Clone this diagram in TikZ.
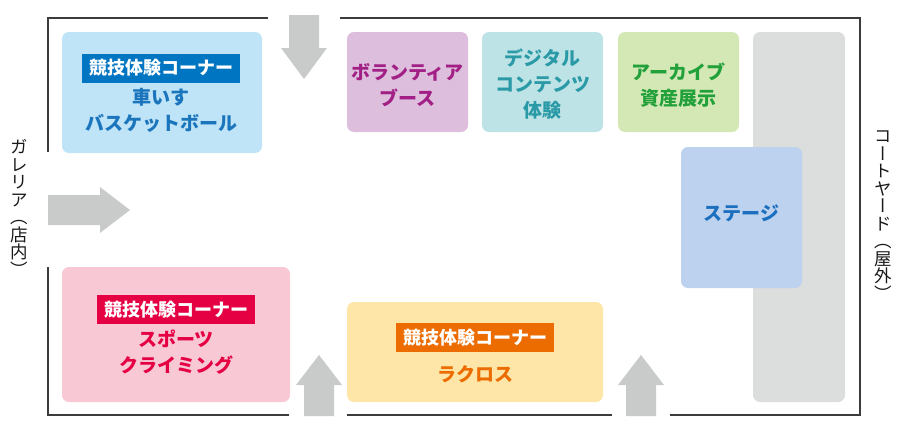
\documentclass[tikz,border=0pt]{standalone}
\usepackage{fontspec}
\setmainfont{Noto Sans CJK JP}
\newfontfamily\vjp{Noto Sans CJK JP}[RawFeature=+vert]
\usetikzlibrary{positioning}
\definecolor{wallc}{HTML}{3C3C3C}
\definecolor{flowc}{HTML}{C9CACA}
\definecolor{colc}{HTML}{DCDDDD}
\definecolor{wbbg}{HTML}{BFE3F7}
\definecolor{wbtag}{HTML}{0075C2}
\definecolor{wbtx}{HTML}{1B75BC}
\definecolor{scbg}{HTML}{F8C9D4}
\definecolor{sctag}{HTML}{E50043}
\definecolor{vobg}{HTML}{DDBFDD}
\definecolor{votx}{HTML}{A21F86}
\definecolor{dgbg}{HTML}{BEE3E6}
\definecolor{dgtx}{HTML}{2A9AA6}
\definecolor{arbg}{HTML}{D3E8B5}
\definecolor{artx}{HTML}{22A03A}
\definecolor{stbg}{HTML}{BCD2EE}
\definecolor{sttx}{HTML}{1C6FBF}
\definecolor{lcbg}{HTML}{FDE6A8}
\definecolor{lctag}{HTML}{EC6C00}

\begin{document}
\begin{tikzpicture}[
  x=1pt, y=-1pt,
  area/.style={rounded corners=7pt, inner sep=0pt},
  tag/.style={inner sep=0pt, minimum width=158pt, minimum height=29pt, text=white,
    font=\fontsize{18}{18}\selectfont\bfseries},
  body/.style={inner sep=0pt, align=center, font=\fontsize{19}{26}\selectfont\bfseries},
  wall/.style={draw=wallc, line width=1.5pt},
  flow/.style={fill=flowc},
  vlabel/.style={inner sep=0pt, align=center, text=black!90,
    font=\vjp\fontsize{17.5}{17.5}\selectfont}
]
  \useasboundingbox (0,0) rectangle (900,431);

  \draw[wall] (268,18) -- (48,18) -- (48,152);
  \draw[wall] (340,18) -- (860,18) -- (860,415) -- (670,415);
  \draw[wall] (612,415) -- (347,415);
  \draw[wall] (289,415) -- (48,415) -- (48,267);

  \fill[flow] (289,15) -- (319,15) -- (319,48) -- (327,48) -- (304,79) -- (281,48) -- (289,48) -- cycle;
  \fill[flow] (48,195) -- (100,195) -- (100,187) -- (130,210) -- (100,233) -- (100,225) -- (48,225) -- cycle;
  \fill[flow] (304,416) -- (304,385) -- (296,385) -- (319,355) -- (342,385) -- (334,385) -- (334,416) -- cycle;
  \fill[flow] (626,416) -- (626,385) -- (618,385) -- (641,355) -- (664,385) -- (656,385) -- (656,416) -- cycle;

  \node[area, fill=colc, minimum width=92pt, minimum height=370pt] (col) at (799,217) {};

  \node[area, fill=wbbg, minimum width=200pt, minimum height=121pt] (wb) at (162,92.5) {};
  \node[tag, fill=wbtag] (wbtag) at (161,68) {競技体験コーナー};
  \node[body, text=wbtx] (wbtxt) at (161,110.5) {車いす\\バスケットボール};

  \node[area, fill=scbg, minimum width=228pt, minimum height=135pt] (sc) at (176,334.5) {};
  \node[tag, fill=sctag] (sctag) at (176,309.5) {競技体験コーナー};
  \node[body, text=sctag] (sctxt) at (176,352.5) {スポーツ\\クライミング};

  \node[area, fill=vobg, minimum width=121pt, minimum height=100pt] (vo) at (407.5,82) {};
  \node[body, text=votx] (votxt) at (407.5,85) {ボランティア\\ブース};

  \node[area, fill=dgbg, minimum width=121pt, minimum height=100pt] (dg) at (542.5,82) {};
  \node[body, text=dgtx] (dgtxt) at (542.5,84.5) {デジタル\\コンテンツ\\体験};

  \node[area, fill=arbg, minimum width=121pt, minimum height=100pt] (ar) at (678.5,82) {};
  \node[body, text=artx] (artxt) at (678.5,85) {アーカイブ\\資産展示};

  \node[area, fill=stbg, minimum width=121pt, minimum height=141pt] (st) at (741.5,217.5) {};
  \node[body, text=sttx] (sttxt) at (741.5,213) {ステージ};

  \node[area, fill=lcbg, minimum width=256pt, minimum height=100pt] (lc) at (475,352) {};
  \node[tag, fill=lctag] (lctag) at (475,337.5) {競技体験コーナー};
  \node[body, text=lctag] (lctxt) at (475,374) {ラクロス};

  \node[vlabel] (gal) at (19,208) {ガ\\レ\\リ\\ア\\（\\店\\内\\）};
  \node[vlabel] (crt) at (883,215.5) {コ\\ー\\ト\\ヤ\\ー\\ド\\（\\屋\\外\\）};
\end{tikzpicture}
\end{document}
